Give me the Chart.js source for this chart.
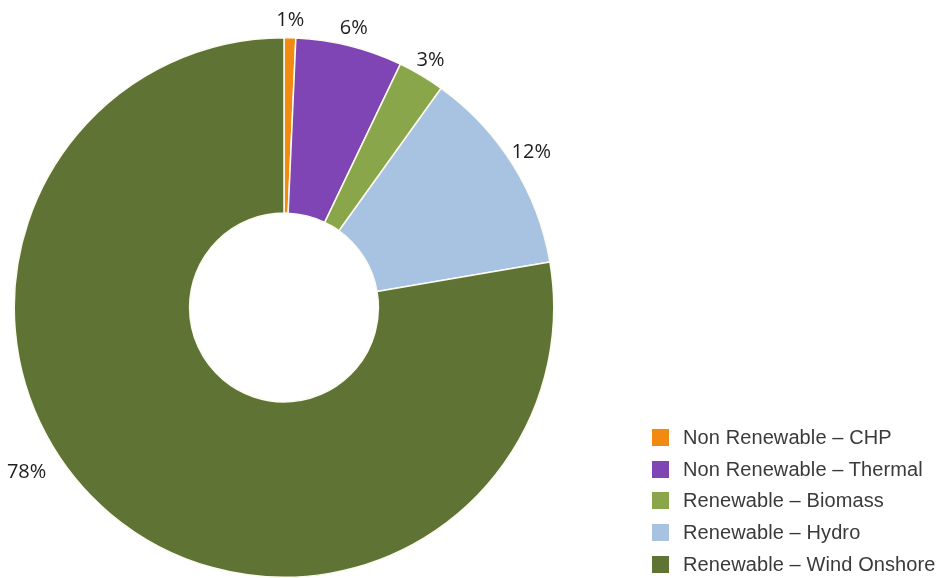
<!DOCTYPE html>
<html>
<head>
<meta charset="utf-8">
<script src="https://cdn.jsdelivr.net/npm/chart.js@4"></script>
<style>
  html, body { margin: 0; padding: 0; background: #fff; overflow: hidden; }
  #wrap { position: relative; width: 947px; height: 578px; }
  #mix { position: absolute; left: 0; top: 0; }
  #legend { position: absolute; left: 652px; top: 422px; margin: 0; padding: 0; list-style: none;
            font-family: "Liberation Sans", Arial, sans-serif; font-size: 20px; color: #3a3a3a;
            letter-spacing: 0.1px; }
  #legend li { height: 31.6px; display: flex; align-items: center; white-space: nowrap; }
  #legend .sw { width: 17px; height: 17px; margin-right: 14px; display: inline-block; flex: none; }
</style>
</head>
<body>
<div id="wrap">
  <canvas id="mix" width="947" height="578"></canvas>
  <ul id="legend"></ul>
</div>
<script>
// ── Data ──────────────────────────────────────────────────────────────────────
const categories = [
  'Non Renewable – CHP',
  'Non Renewable – Thermal',
  'Renewable – Biomass',
  'Renewable – Hydro',
  'Renewable – Wind Onshore'
];
const shares = [0.7, 6.4, 2.8, 12.4, 77.7];
const colours = ['#F28A12', '#8045B4', '#8AA64B', '#A8C3E2', '#5F7434'];

// ── Helpers ───────────────────────────────────────────────────────────────────
const $ = id => document.getElementById(id);
const total = shares.reduce((a, b) => a + b, 0);
const pct = v => Math.round(v / total * 100) + '%';

// Outside labels, Excel style: text centred a little beyond the rim
const outsideLabels = {
  id: 'outsideLabels',
  afterDatasetsDraw(chart, args, opts) {
    const { ctx } = chart;
    const meta = chart.getDatasetMeta(0);
    ctx.save();
    ctx.font = opts.font;
    ctx.fillStyle = opts.color;
    ctx.textAlign = 'center';
    ctx.textBaseline = 'middle';
    meta.data.forEach((arc, i) => {
      const { x, y, startAngle, endAngle, outerRadius } = arc.getProps(['x', 'y', 'startAngle', 'endAngle', 'outerRadius'], true);
      let a = (startAngle + endAngle) / 2;
      if (opts.angleShift[i]) a += opts.angleShift[i];
      const r = outerRadius + (opts.gap[i] || opts.gap.default);
      ctx.fillText(pct(shares[i]), x + Math.cos(a) * r, y + Math.sin(a) * r);
    });
    ctx.restore();
  }
};

// ── Chart ─────────────────────────────────────────────────────────────────────
new Chart($('mix'), {
  type: 'doughnut',
  data: {
    labels: categories,
    datasets: [{
      data: shares,
      backgroundColor: colours,
      borderColor: '#FBFBF0',
      borderWidth: 1.5,
      hoverOffset: 0
    }]
  },
  options: {
    responsive: false,
    animation: false,
    cutout: '35%',
    layout: { padding: { left: 13, top: 37, right: 392, bottom: 0 } },
    plugins: {
      legend: { display: false },
      tooltip: { enabled: false },
      outsideLabels: {
        font: '20px "Open Sans", "Liberation Sans", sans-serif',
        color: '#1e1e1e',
        gap: { default: 18, 3: 22, 4: 36 },
        angleShift: { 4: 0.3 }
      }
    }
  },
  plugins: [outsideLabels]
});

// ── Legend ────────────────────────────────────────────────────────────────────
categories.forEach((name, i) => {
  const li = document.createElement('li');
  li.innerHTML = `<span class="sw" style="background:${colours[i]}"></span>${name}`;
  $('legend').appendChild(li);
});
</script>
</body>
</html>
